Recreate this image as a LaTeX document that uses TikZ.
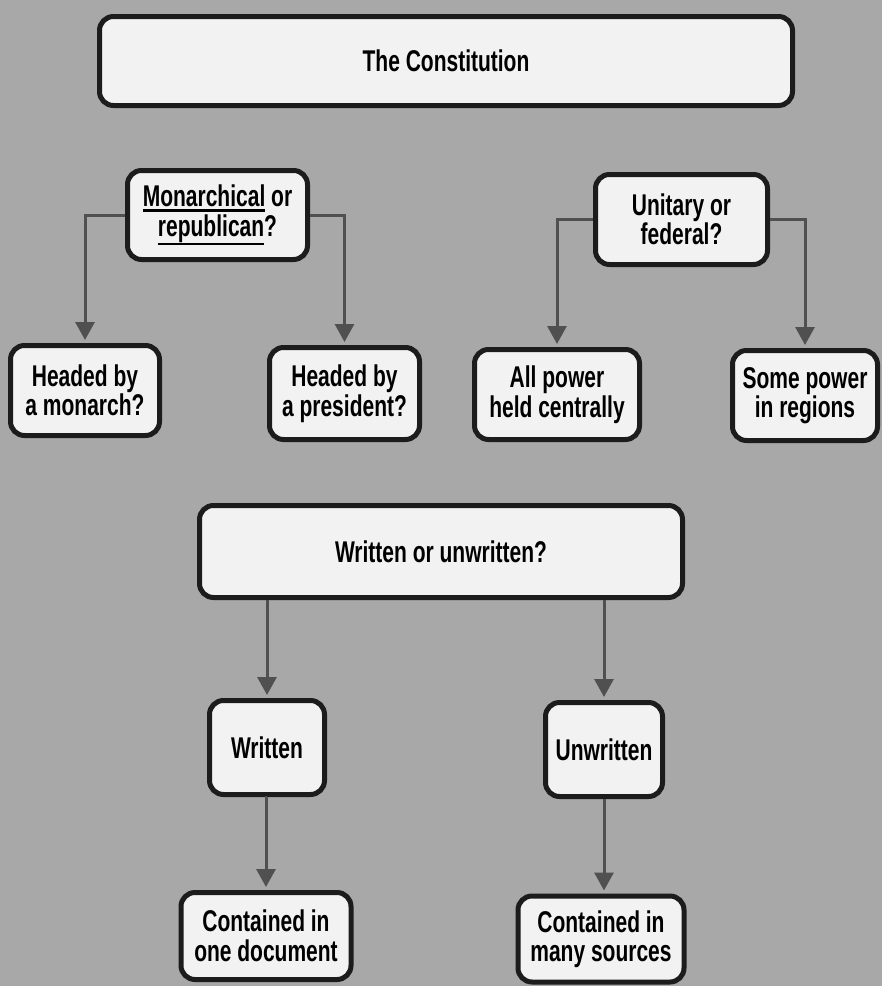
\documentclass[tikz,border=0pt]{standalone}
\usepackage{fontspec}
\setmainfont{Liberation Sans}[FakeStretch=0.7]
\usetikzlibrary{arrows.meta}
\definecolor{bgc}{RGB}{168,168,168}
\definecolor{boxfill}{RGB}{242,242,242}
\definecolor{boxline}{RGB}{28,28,28}
\definecolor{arrc}{RGB}{80,80,80}
\newsavebox\ulbox
\newcommand\myul[2]{\sbox\ulbox{#2}\rlap{\rule[#1]{\wd\ulbox}{2.5pt}}\usebox\ulbox}
\tikzset{
  cbox/.style={draw=boxline, fill=boxfill, line width=5pt, rounded corners=14pt,
    inner sep=0pt, align=center, font=\fontsize{30}{29.5}\selectfont\bfseries},
  conn/.style={draw=arrc, line width=3pt, -{Triangle[width=19pt,length=18pt]}, shorten >=3pt}
}
\begin{document}
\begin{tikzpicture}[x=1pt,y=-1pt]
\fill[bgc] (0,0) rectangle (882,986);
\useasboundingbox (0,0) rectangle (882,986);
\node[cbox, minimum width=693pt, minimum height=89pt] (const) at (446,61) {The Constitution};
\node[cbox, minimum width=180pt, minimum height=89pt] (mon) at (217.5,215) {\myul{-5pt}{Monarchical} or\\\myul{-9pt}{republican}?};
\node[cbox, minimum width=172pt, minimum height=90pt] (uni) at (681.5,219.5) {Unitary or\\federal?};
\node[cbox, minimum width=149pt, minimum height=90pt] (monarch) at (85,390.5) {Headed by\\a monarch?};
\node[cbox, minimum width=150pt, minimum height=92pt] (pres) at (344.5,393.5) {Headed by\\a president?};
\node[cbox, minimum width=165pt, minimum height=90pt] (allp) at (557,394.5) {All power\\held centrally};
\node[cbox, minimum width=145pt, minimum height=90pt] (somep) at (805,395.5) {Some power\\in regions};
\node[cbox, minimum width=483pt, minimum height=92pt] (wou) at (441,551.5) {Written or unwritten?};
\node[cbox, minimum width=115pt, minimum height=94pt] (writ) at (267,747.5) {Written};
\node[cbox, minimum width=117pt, minimum height=94pt] (unwr) at (604,749.5) {Unwritten};
\node[cbox, minimum width=170pt, minimum height=87pt] (onedoc) at (266,936) {Contained in\\one document};
\node[cbox, minimum width=166pt, minimum height=86pt] (many) at (601,939) {Contained in\\many sources};
\draw[conn] (mon.west) -| (monarch.north);
\draw[conn] (mon.east) -| (pres.north);
\draw[conn] (uni.west) -| (allp.north);
\draw[conn] (uni.east) -| (somep.north);
\draw[conn] (writ.north |- wou.south) -- (writ.north);
\draw[conn] (unwr.north |- wou.south) -- (unwr.north);
\draw[conn] (writ.south) -- (writ.south -| onedoc.north) -- (onedoc.north);
\draw[conn] (unwr.south) -- (unwr.south |- many.north);
\end{tikzpicture}
\end{document}
